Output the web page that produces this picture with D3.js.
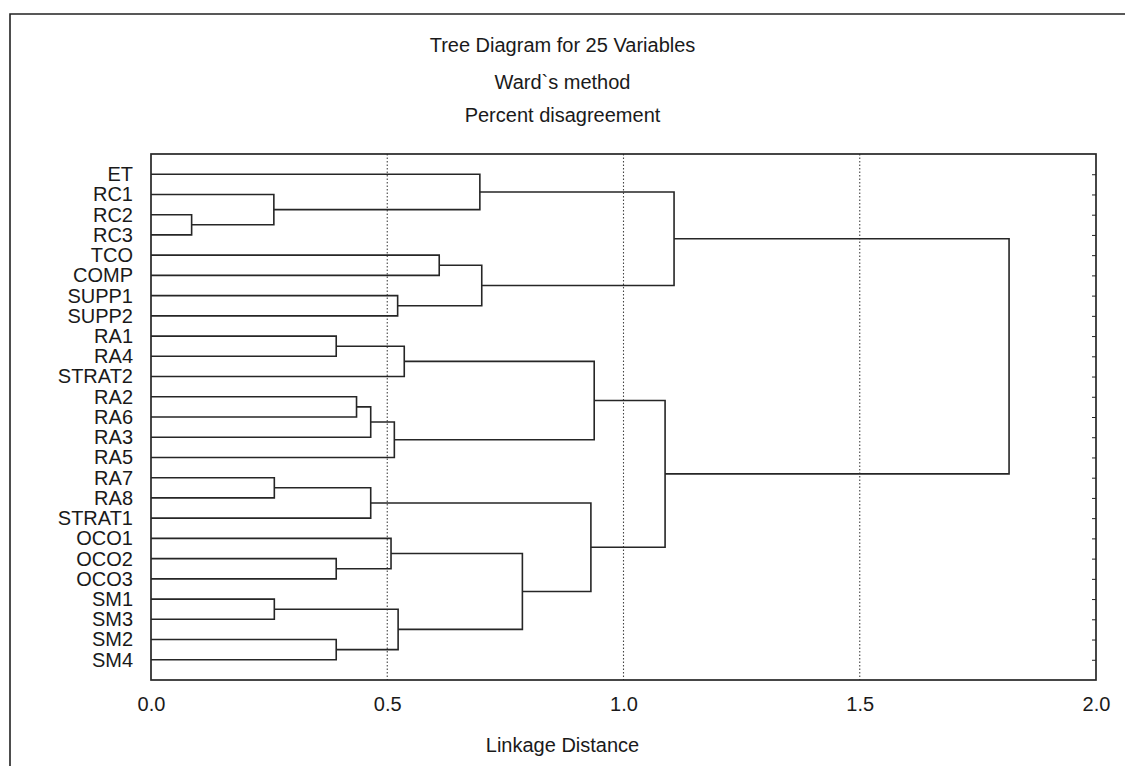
<!DOCTYPE html>
<html>
<head>
<meta charset="utf-8">
<script src="https://cdn.jsdelivr.net/npm/d3@7/dist/d3.min.js"></script>
<style>
  html, body { margin: 0; padding: 0; background: #fff; }
  svg { display: block; }
  text { font-family: "Liberation Sans", Arial, sans-serif; fill: #1a1a1a; }
</style>
</head>
<body>
<svg id="chart" width="1125" height="766"></svg>
<script>
// ---- data ----
const titleLines = ["Tree Diagram for 25 Variables", "Ward`s method", "Percent disagreement"];
const xAxisTitle = "Linkage Distance";
const leaves = ["ET","RC1","RC2","RC3","TCO","COMP","SUPP1","SUPP2","RA1","RA4","STRAT2",
  "RA2","RA6","RA3","RA5","RA7","RA8","STRAT1","OCO1","OCO2","OCO3","SM1","SM3","SM2","SM4"];
const xTicks = [0.0, 0.5, 1.0, 1.5, 2.0];
const gridValues = [0.5, 1.0, 1.5];
// merges: ids 0..24 are leaves, id 25+k is merge k
const mergeLeft   = [2, 1, 0, 4, 6, 28, 27, 8, 32, 11, 34, 35, 33, 15, 38, 19, 18, 21, 23, 42, 41, 39, 37, 31];
const mergeRight  = [3, 25, 26, 5, 7, 29, 30, 9, 10, 12, 13, 14, 36, 16, 17, 20, 40, 22, 24, 43, 44, 45, 46, 47];
const mergeHeight = [0.086, 0.260, 0.696, 0.610, 0.522, 0.700, 1.107, 0.392, 0.536, 0.435, 0.465, 0.515,
  0.938, 0.261, 0.465, 0.392, 0.508, 0.261, 0.392, 0.523, 0.786, 0.931, 1.088, 1.816];

// ---- layout ----
const svg = d3.select("#chart");
const plot = { left: 151, right: 1096, top: 154, bottom: 680 };
const x = d3.scaleLinear().domain([0, 2]).range([plot.left, plot.right]);
const y = d3.scalePoint().domain(leaves).range([plot.top, plot.bottom]).padding(1);
const lineColor = "#262626";
const fontFam = '"Liberation Sans", Arial, sans-serif';

// outer frame (top and left edges visible)
svg.append("path")
  .attr("d", `M10,766 L10,14 L1125,14`)
  .attr("fill", "none").attr("stroke", "#222").attr("stroke-width", 1.6);

// titles
svg.selectAll("text.title").data(titleLines).join("text")
  .attr("class", "title")
  .attr("x", 562.5)
  .attr("y", (d, i) => [52, 89, 122][i])
  .attr("text-anchor", "middle")
  .attr("font-size", 20)
  .text(d => d);

// grid lines
svg.append("g").selectAll("line").data(gridValues).join("line")
  .attr("x1", d => x(d)).attr("x2", d => x(d))
  .attr("y1", plot.top).attr("y2", plot.bottom)
  .attr("stroke", "#444").attr("stroke-width", 1.1)
  .attr("stroke-dasharray", "1.5,2");

// compute node positions
const nodeX = leaves.map(() => 0);
const nodeY = leaves.map(d => y(d));
mergeHeight.forEach((h, k) => {
  nodeX.push(h);
  nodeY.push((nodeY[mergeLeft[k]] + nodeY[mergeRight[k]]) / 2);
});

// dendrogram elbows
svg.append("g").selectAll("path").data(mergeHeight.map((h, k) => k)).join("path")
  .attr("d", k => {
    const a = mergeLeft[k], b = mergeRight[k], h = mergeHeight[k];
    return `M${x(nodeX[a])},${nodeY[a]} H${x(h)} V${nodeY[b]} H${x(nodeX[b])}`;
  })
  .attr("fill", "none").attr("stroke", lineColor).attr("stroke-width", 1.6);

// plot frame
svg.append("rect")
  .attr("x", plot.left).attr("y", plot.top)
  .attr("width", plot.right - plot.left).attr("height", plot.bottom - plot.top)
  .attr("fill", "none").attr("stroke", lineColor).attr("stroke-width", 1.7);

// left axis (leaf labels)
const leftAxis = svg.append("g").attr("transform", `translate(${plot.left},0)`)
  .call(d3.axisLeft(y).tickSize(0).tickPadding(18));
leftAxis.select(".domain").remove();
leftAxis.selectAll("text").attr("font-size", 20).attr("fill", "#1a1a1a")
  .style("font-family", fontFam);

// right axis ticks (inward)
const rightAxis = svg.append("g").attr("transform", `translate(${plot.right},0)`)
  .call(d3.axisLeft(y).tickSize(4).tickFormat(""));
rightAxis.select(".domain").remove();
rightAxis.selectAll("line").attr("stroke", lineColor);

// bottom axis
const bottomAxis = svg.append("g").attr("transform", `translate(0,${plot.bottom})`)
  .call(d3.axisBottom(x).tickValues(xTicks).tickFormat(d3.format(".1f")).tickSize(0).tickPadding(17));
bottomAxis.select(".domain").remove();
bottomAxis.selectAll("text").attr("font-size", 20).attr("fill", "#1a1a1a")
  .style("font-family", fontFam);

// x axis title
svg.append("text")
  .attr("x", 562.5)
  .attr("y", 752)
  .attr("text-anchor", "middle")
  .attr("font-size", 20)
  .text(xAxisTitle);
</script>
</body>
</html>
